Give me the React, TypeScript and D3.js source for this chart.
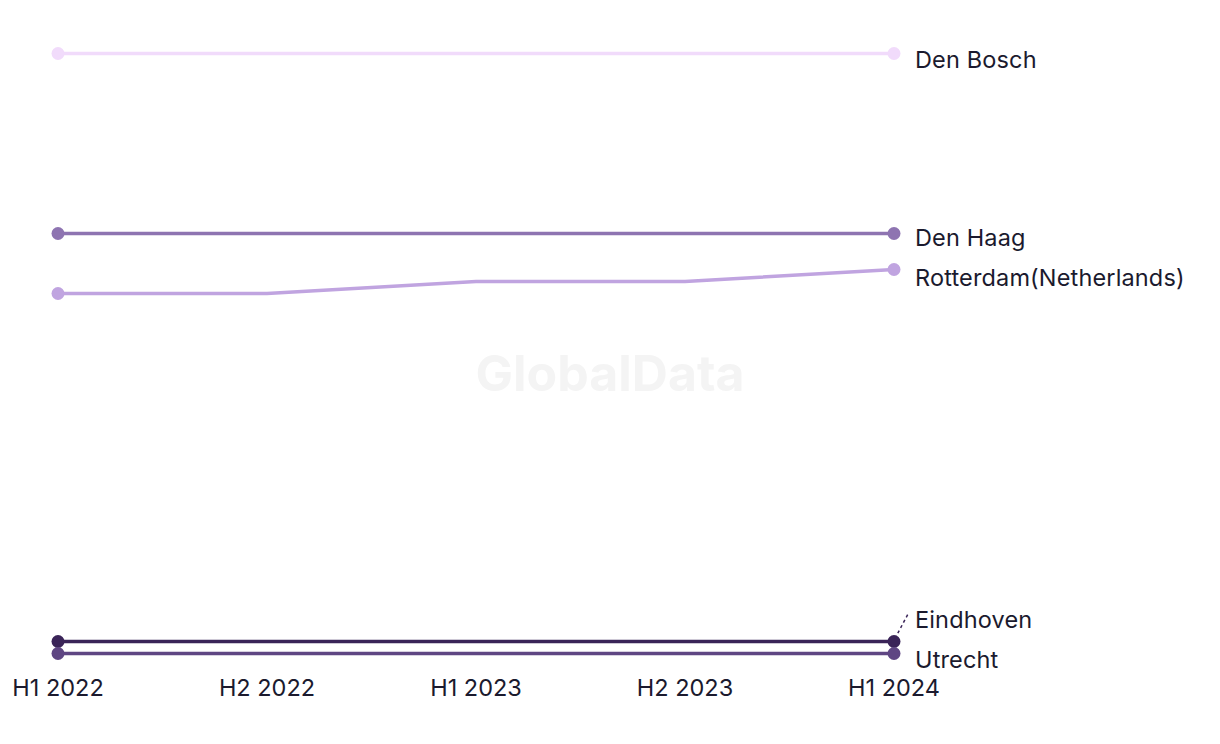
import React from "react";
import * as d3 from "d3";

const periods = ["H1 2022", "H2 2022", "H1 2023", "H2 2023", "H1 2024"];
const seriesNames = ["Den Bosch", "Den Haag", "Rotterdam(Netherlands)", "Eindhoven", "Utrecht"];
const denBosch = [51, 51, 51, 51, 51];
const denHaag = [36, 36, 36, 36, 36];
const rotterdam = [31, 31, 32, 32, 33];
const eindhoven = [2, 2, 2, 2, 2];
const utrecht = [1, 1, 1, 1, 1];
const seriesColors = ["#f1dbfb", "#8e74b1", "#c0a4e0", "#3a2458", "#5f4683"];

const W = 1220;
const H = 744;

export default function App() {
  const values = [denBosch, denHaag, rotterdam, eindhoven, utrecht];
  const x = d3.scalePoint<string>().domain(periods).range([58, 894]);
  const y = d3.scaleLinear().domain([1, 51]).range([653.5, 53.5]);
  const line = d3
    .line<number>()
    .x((_, i) => x(periods[i]) as number)
    .y((v) => y(v));

  // label dodging
  const last = periods[periods.length - 1];
  const lx = (x(last) as number) + 21;
  const gap = 40;
  const maxY = 659;
  const labels = seriesNames.map((name, i) => ({
    name,
    i,
    py: y(values[i][values[i].length - 1]),
    ly: y(values[i][values[i].length - 1]) + 6,
  }));
  labels.sort((a, b) => a.ly - b.ly);
  for (let iter = 0; iter < 200; iter++) {
    for (let k = 1; k < labels.length; k++) {
      const a = labels[k - 1];
      const b = labels[k];
      const d = b.ly - a.ly;
      if (d < gap) {
        const shift = (gap - d) / 2;
        a.ly -= shift;
        b.ly += shift;
      }
    }
    labels.forEach((l) => {
      if (l.ly > maxY) l.ly = maxY;
    });
  }

  const font = "Inter, 'Open Sans', sans-serif";

  return (
    <svg width={W} height={H} style={{ position: "absolute", left: 0, top: 0 }}>
      <rect width={W} height={H} fill="#ffffff" />
      <text
        x={610}
        y={373}
        textAnchor="middle"
        dominantBaseline="central"
        fontFamily={font}
        fontWeight={700}
        fontSize={50}
        fill="#f4f4f4"
      >
        GlobalData
      </text>
      {values.map((vals, i) => (
        <g key={seriesNames[i]}>
          <path d={line(vals) || ""} fill="none" stroke={seriesColors[i]} strokeWidth={3.5} />
          <circle cx={x(periods[0]) as number} cy={y(vals[0])} r={6.5} fill={seriesColors[i]} />
          <circle cx={x(last) as number} cy={y(vals[vals.length - 1])} r={6.5} fill={seriesColors[i]} />
        </g>
      ))}
      {labels.map((l) => {
        const moved = Math.abs(l.ly - (l.py + 6)) > 8;
        return (
          <g key={l.name}>
            {moved && (
              <line
                x1={(x(last) as number) + 1}
                y1={l.py - 3}
                x2={lx - 7}
                y2={l.ly - 5}
                stroke={seriesColors[l.i]}
                strokeWidth={1.5}
                strokeDasharray="3,3"
              />
            )}
            <text
              x={lx}
              y={l.ly}
              dominantBaseline="central"
              fontFamily={font}
              fontSize={23.5}
              letterSpacing={0.15}
              fill="#1b1a2e"
            >
              {l.name}
            </text>
          </g>
        );
      })}
      {periods.map((p) => (
        <text
          key={p}
          x={x(p) as number}
          y={687}
          textAnchor="middle"
          dominantBaseline="central"
          fontFamily={font}
          fontSize={23.5}
          fill="#1b1a2e"
        >
          {p}
        </text>
      ))}
    </svg>
  );
}
